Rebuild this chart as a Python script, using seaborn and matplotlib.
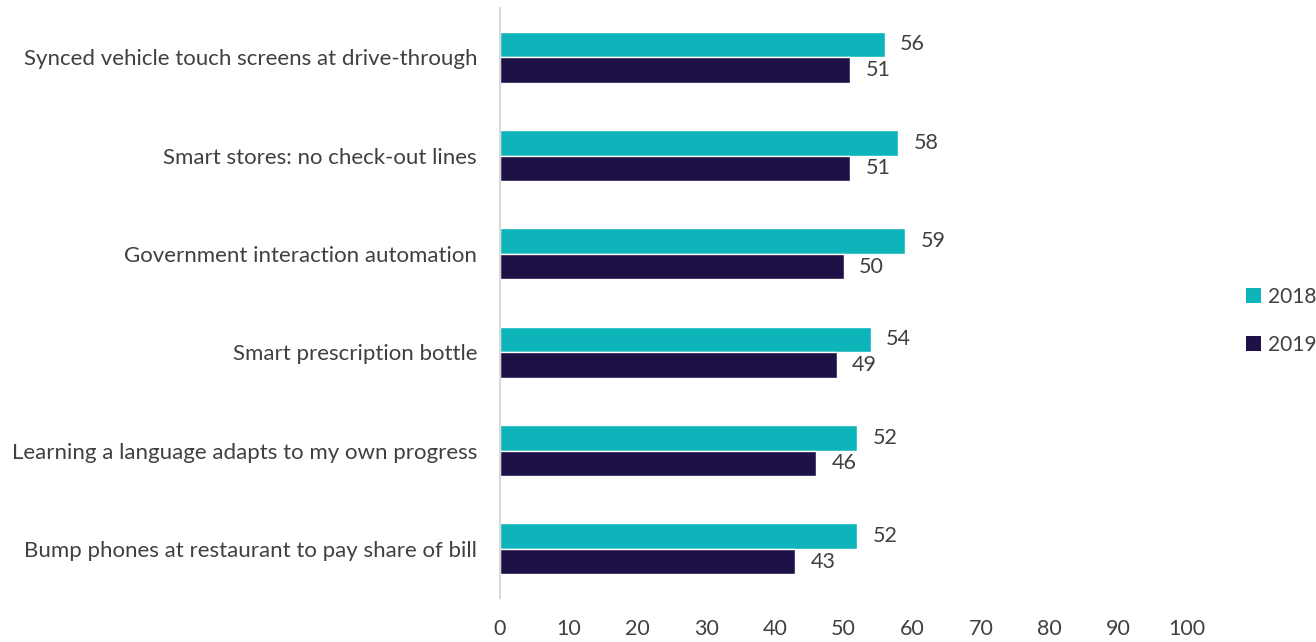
import matplotlib
matplotlib.use("Agg")
import matplotlib.pyplot as plt
import seaborn as sns
import pandas as pd
from matplotlib.patches import Patch

categories = [
    "Synced vehicle touch screens at drive-through",
    "Smart stores: no check-out lines",
    "Government interaction automation",
    "Smart prescription bottle",
    "Learning a language adapts to my own progress",
    "Bump phones at restaurant to pay share of bill",
]
values_2018 = [56, 58, 59, 54, 52, 52]
values_2019 = [51, 51, 50, 49, 46, 43]
series = ["2018", "2019"]
colors = ["#0DB5BB", "#1E1147"]
x_ticks = [0, 10, 20, 30, 40, 50, 60, 70, 80, 90, 100]

df = pd.DataFrame({
    "category": categories * 2,
    "value": values_2018 + values_2019,
    "year": [series[0]] * len(categories) + [series[1]] * len(categories),
})

sns.set_theme(style="white")
plt.rcParams["font.family"] = ["Lato", "DejaVu Sans"]
text_color = "#404040"
fs = 15.5

fig = plt.figure(figsize=(13.16, 6.42), dpi=100)
ax = fig.add_axes([500 / 1316, 1 - 598 / 642, (1187 - 500) / 1316, 590 / 642])

sns.barplot(data=df, y="category", x="value", hue="year", order=categories,
            hue_order=series, palette=colors, width=0.52, orient="h",
            ax=ax, legend=False, saturation=1)

for cont in ax.containers:
    ax.bar_label(cont, labels=[f"{v:.0f}" for v in cont.datavalues],
                 padding=11, fontsize=fs, color=text_color)

ax.set_xlim(0, 100)
ax.set_ylim(5.5, -0.5)
ax.set_xticks(x_ticks)
ax.set_xticklabels([str(t) for t in x_ticks], fontsize=fs, color=text_color)
ax.tick_params(axis="x", length=0, pad=15)
ax.tick_params(axis="y", length=0, pad=16.5, labelsize=16, labelcolor=text_color)
ax.set_xlabel("")
ax.set_ylabel("")
for s in ["top", "right", "bottom"]:
    ax.spines[s].set_visible(False)
ax.spines["left"].set_color("#D9D9D9")
ax.spines["left"].set_linewidth(1.5)
ax.grid(False)

handles = [Patch(facecolor=c, edgecolor="none") for c in colors]
fig.legend(handles, series, loc="center left", bbox_to_anchor=(1236 / 1316, 1 - 321 / 642),
           frameon=False, fontsize=15, labelcolor=text_color, handlelength=0.7,
           handleheight=0.7, handletextpad=0.35, labelspacing=1.35, borderpad=0)

fig.savefig("out.png", dpi=100)
